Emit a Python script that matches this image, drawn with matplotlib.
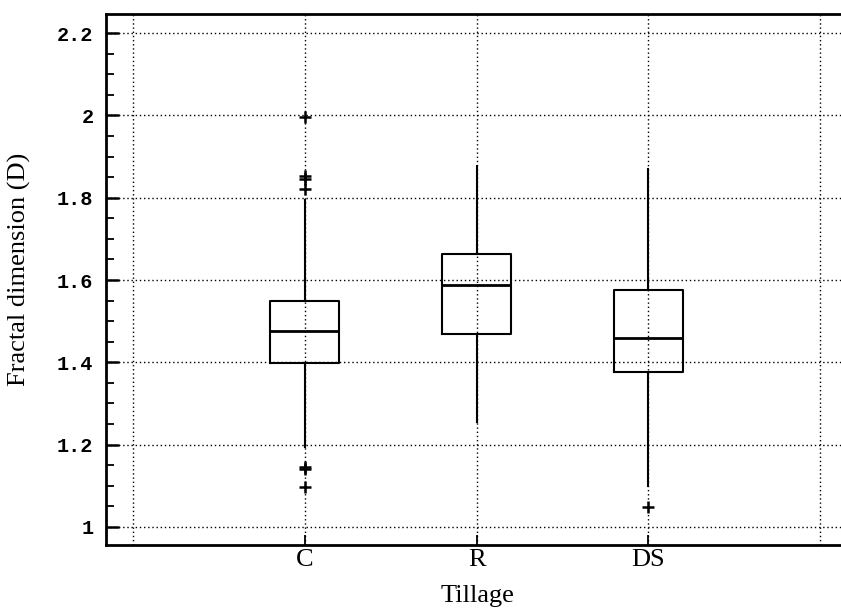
import matplotlib
matplotlib.use('Agg')
import matplotlib.pyplot as plt
from matplotlib.ticker import MultipleLocator, FixedLocator

# box statistics
labels = ['C', 'R', 'DS']
q1 = [1.398, 1.468, 1.376]
med = [1.475, 1.587, 1.458]
q3 = [1.550, 1.664, 1.577]
whislo = [1.195, 1.255, 1.100]
whishi = [1.795, 1.878, 1.870]
fliers = [[1.997, 1.852, 1.845, 1.822, 1.146, 1.140, 1.097], [], [1.048]]

yticks = [1.0, 1.2, 1.4, 1.6, 1.8, 2.0, 2.2]
ytick_labels = ['1', '1.2', '1.4', '1.6', '1.8', '2', '2.2']

stats = []
for i in range(len(labels)):
    stats.append(dict(label=labels[i], q1=q1[i], med=med[i], q3=q3[i],
                      whislo=whislo[i], whishi=whishi[i], fliers=fliers[i]))

fig = plt.figure(figsize=(8.41, 6.15), dpi=100)
ax = fig.add_axes([0.126, 0.1138, 0.884, 0.863])

ax.bxp(stats, positions=[1, 2, 3], widths=0.4, showcaps=False,
       boxprops=dict(color='black', linewidth=1.5),
       medianprops=dict(color='black', linewidth=2),
       whiskerprops=dict(color='black', linewidth=1.5),
       flierprops=dict(marker='+', markeredgecolor='black', markersize=9,
                       markeredgewidth=1.8, linestyle='none'))

ax.set_xlim(-0.157, 4.17)
ax.set_ylim(0.956, 2.246)

ax.set_xticks([1, 2, 3])
ax.set_xticklabels(labels, family='Liberation Serif', fontsize=19)
ax.xaxis.set_minor_locator(FixedLocator([0, 4]))
ax.set_yticks(yticks)
ax.set_yticklabels(ytick_labels, family='Liberation Mono', fontweight='bold', fontsize=14.5)
ax.yaxis.set_minor_locator(MultipleLocator(0.05))

ax.tick_params(axis='y', which='major', direction='in', length=9, width=1.8, pad=9)
ax.tick_params(axis='y', which='minor', direction='in', length=6, width=1.3)
ax.tick_params(axis='x', which='major', direction='in', length=7, width=1.3, pad=3)
ax.tick_params(axis='x', which='minor', length=0)

ax.grid(True, which='major', axis='y', linestyle=(0, (1, 2)), color='black', linewidth=1)
ax.grid(True, which='both', axis='x', linestyle=(0, (1, 2)), color='black', linewidth=1)
ax.set_axisbelow(True)

for side in ['left', 'bottom', 'top']:
    ax.spines[side].set_linewidth(2)
ax.spines['right'].set_visible(False)

ax.set_xlabel('Tillage', family='Liberation Serif', fontsize=19)
ax.set_ylabel('Fractal dimension (D)', family='Liberation Serif', fontsize=19)
ax.xaxis.set_label_coords(0.5, -0.076)
ax.yaxis.set_label_coords(-0.101, 0.52)

plt.savefig('out.png', dpi=100)
